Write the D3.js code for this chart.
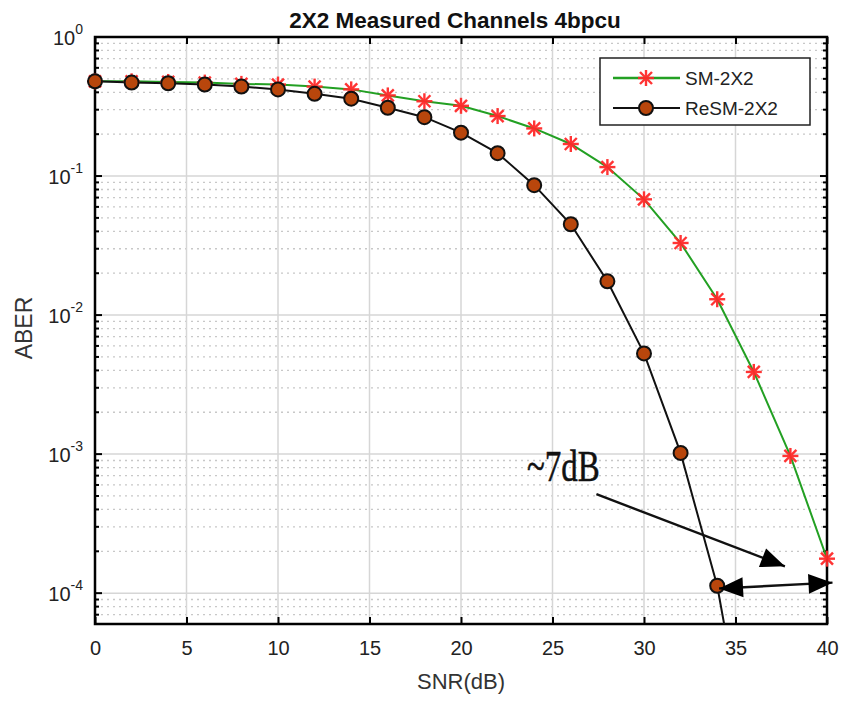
<!DOCTYPE html>
<html>
<head>
<meta charset="utf-8">
<script src="https://cdn.jsdelivr.net/npm/d3@7"></script>
<style>
  body { margin: 0; background: #fff; }
  svg { font-family: Arial, "Liberation Sans", sans-serif; }
</style>
</head>
<body>
<div id="container"></div>
<script>
/* CONSTANTS AND GLOBALS */
const width = 844,
  height = 702,
  margin = {top: 37, bottom: 78, left: 95, right: 12};

// data
const snr = [0, 2, 4, 6, 8, 10, 12, 14, 16, 18, 20, 22, 24, 26, 28, 30, 32, 34, 36, 38, 40];
const smAber = [0.48, 0.48, 0.475, 0.47, 0.46, 0.455, 0.44, 0.42, 0.38, 0.345, 0.32, 0.27, 0.22, 0.17, 0.116, 0.068, 0.033, 0.013, 0.0039, 0.00097, 0.000177];
const resmAber = [0.48, 0.47, 0.465, 0.455, 0.44, 0.42, 0.39, 0.36, 0.31, 0.265, 0.205, 0.146, 0.086, 0.045, 0.0175, 0.0053, 0.00102, 0.000113, 0.000004];
const xTicks = [0, 5, 10, 15, 20, 25, 30, 35, 40];
const yTicks = [1, 0.1, 0.01, 0.001, 0.0001];
const yExps = ["0", "-1", "-2", "-3", "-4"];
const seriesNames = ["SM-2X2", "ReSM-2X2"];

// annotation (data coordinates)
const noteText = "~7dB";
const notePos = [23.6, 6.4e-4];
const arrowOne = [[27.4, 5.15e-4], [37.7, 1.56e-4]];
const arrowTwo = [[34.1, 1.08e-4], [40.3, 1.19e-4]];

/* SCALES */
const xScale = d3.scaleLinear()
  .domain([0, 40])
  .range([margin.left, width - margin.right - 5]);

const yScale = d3.scaleLog()
  .domain([6e-5, 1])
  .range([height - margin.bottom, margin.top]);

const svg = d3.select("#container")
  .append("svg")
  .attr("width", width)
  .attr("height", height);

const x0 = xScale(0), x1 = xScale(40), y0 = yScale(6e-5), y1 = yScale(1);

// minor y values
const minorY = [];
for (let e = -5; e < 0; e++) {
  for (let m = 2; m <= 9; m++) {
    const v = m * Math.pow(10, e);
    if (v >= 6e-5 && v <= 1) minorY.push(v);
  }
}

/* GRID */
const grid = svg.append("g");
grid.selectAll(".minor")
  .data(minorY)
  .join("line")
  .attr("x1", x0).attr("x2", x1)
  .attr("y1", d => yScale(d)).attr("y2", d => yScale(d))
  .attr("stroke", "#c8c8c8")
  .attr("stroke-width", 1.3)
  .attr("stroke-dasharray", "2,4");

grid.selectAll(".vmaj")
  .data(xTicks)
  .join("line")
  .attr("x1", d => xScale(d)).attr("x2", d => xScale(d))
  .attr("y1", y0).attr("y2", y1)
  .attr("stroke", "#d6d6d6")
  .attr("stroke-width", 1.5);

grid.selectAll(".hmaj")
  .data(yTicks)
  .join("line")
  .attr("x1", x0).attr("x2", x1)
  .attr("y1", d => yScale(d)).attr("y2", d => yScale(d))
  .attr("stroke", "#d6d6d6")
  .attr("stroke-width", 1.5);

/* AXES (ticks inside, box) */
const xAxis = d3.axisBottom(xScale).tickValues(xTicks).tickSizeInner(-7).tickSizeOuter(0).tickPadding(17);
svg.append("g")
  .attr("transform", `translate(0,${y0})`)
  .call(xAxis)
  .call(g => g.select(".domain").remove())
  .call(g => g.selectAll("text").attr("font-size", 20).attr("fill", "#222"))
  .call(g => g.selectAll("line").attr("stroke", "#000").attr("stroke-width", 2));

svg.append("g")
  .attr("transform", `translate(0,${y1})`)
  .call(d3.axisTop(xScale).tickValues(xTicks).tickSizeInner(-7).tickSizeOuter(0).tickFormat(""))
  .call(g => g.select(".domain").remove())
  .call(g => g.selectAll("line").attr("stroke", "#000").attr("stroke-width", 2));

[[x0, 1], [x1, -1]].forEach(([xp, dir]) => {
  const g = svg.append("g");
  g.selectAll(".mt")
    .data(minorY)
    .join("line")
    .attr("x1", xp).attr("x2", xp + dir * 4)
    .attr("y1", d => yScale(d)).attr("y2", d => yScale(d))
    .attr("stroke", "#000").attr("stroke-width", 2);
  g.selectAll(".Mt")
    .data(yTicks)
    .join("line")
    .attr("x1", xp).attr("x2", xp + dir * 7)
    .attr("y1", d => yScale(d)).attr("y2", d => yScale(d))
    .attr("stroke", "#000").attr("stroke-width", 2);
});

// y tick labels 10^n
const ylab = svg.append("g");
yTicks.forEach((v, i) => {
  const t = ylab.append("text")
    .attr("x", x0 - 12)
    .attr("y", yScale(v) + 8)
    .attr("text-anchor", "end")
    .attr("font-size", 20)
    .attr("fill", "#222");
  t.append("tspan").text("10");
  t.append("tspan").attr("dy", -11).attr("font-size", 14).text(yExps[i]);
});

svg.append("rect")
  .attr("x", x0).attr("y", y1)
  .attr("width", x1 - x0).attr("height", y0 - y1)
  .attr("fill", "none")
  .attr("stroke", "#000")
  .attr("stroke-width", 2.5);

/* LABELS */
svg.append("text")
  .attr("x", 455).attr("y", 28)
  .attr("text-anchor", "middle")
  .attr("font-size", 22.5)
  .attr("font-weight", "bold")
  .attr("fill", "#111")
  .text("2X2 Measured Channels 4bpcu");

svg.append("text")
  .attr("x", 461).attr("y", 689)
  .attr("text-anchor", "middle")
  .attr("font-size", 22)
  .attr("fill", "#333")
  .text("SNR(dB)");

svg.append("text")
  .attr("transform", `translate(32,328) rotate(-90)`)
  .attr("text-anchor", "middle")
  .attr("font-size", 23)
  .attr("fill", "#333")
  .text("ABER");

/* SERIES */
svg.append("clipPath").attr("id", "clip")
  .append("rect").attr("x", x0).attr("y", y1).attr("width", x1 - x0).attr("height", y0 - y1);

const plot = svg.append("g").attr("clip-path", "url(#clip)");
const line = d3.line().x(d => xScale(d[0])).y(d => yScale(d[1]));

const smData = snr.map((s, i) => [s, smAber[i]]);
const resmData = resmAber.map((v, i) => [snr[i], v]);

plot.append("path")
  .datum(smData)
  .attr("d", line)
  .attr("fill", "none")
  .attr("stroke", "#23a023")
  .attr("stroke-width", 2);

plot.append("path")
  .datum(resmData)
  .attr("d", line)
  .attr("fill", "none")
  .attr("stroke", "#111")
  .attr("stroke-width", 2);

function star(g, cx, cy, r) {
  const s = g.append("g").attr("transform", `translate(${cx},${cy})`)
    .attr("stroke", "#ff2a2a").attr("stroke-width", 2.4).attr("opacity", 0.95);
  s.append("line").attr("x1", -r).attr("x2", r).attr("y1", 0).attr("y2", 0);
  s.append("line").attr("x1", 0).attr("x2", 0).attr("y1", -r).attr("y2", r);
  const k = r * 0.75;
  s.append("line").attr("x1", -k).attr("x2", k).attr("y1", -k).attr("y2", k);
  s.append("line").attr("x1", -k).attr("x2", k).attr("y1", k).attr("y2", -k);
}

const markers = svg.append("g");
smData.forEach(d => star(markers, xScale(d[0]), yScale(d[1]), 8));

markers.selectAll("circle")
  .data(resmData.filter(d => d[1] >= 6e-5))
  .join("circle")
  .attr("cx", d => xScale(d[0]))
  .attr("cy", d => yScale(d[1]))
  .attr("r", 7)
  .attr("fill", "#b8460c")
  .attr("stroke", "#111")
  .attr("stroke-width", 2);

/* LEGEND */
const leg = svg.append("g");
leg.append("rect")
  .attr("x", 600).attr("y", 58).attr("width", 210).attr("height", 67)
  .attr("fill", "#fff").attr("stroke", "#222").attr("stroke-width", 1.5);
const legY = [78, 108];
leg.append("line").attr("x1", 613).attr("x2", 680).attr("y1", legY[0]).attr("y2", legY[0])
  .attr("stroke", "#23a023").attr("stroke-width", 2.5);
star(leg, 646, legY[0], 8);
leg.append("line").attr("x1", 613).attr("x2", 680).attr("y1", legY[1]).attr("y2", legY[1])
  .attr("stroke", "#111").attr("stroke-width", 2);
leg.append("circle").attr("cx", 646).attr("cy", legY[1]).attr("r", 7)
  .attr("fill", "#b8460c").attr("stroke", "#111").attr("stroke-width", 2);
seriesNames.forEach((n, i) => {
  leg.append("text")
    .attr("x", 685).attr("y", legY[i] + 7)
    .attr("font-size", 19)
    .attr("fill", "#222")
    .text(n);
});

/* ANNOTATION */
svg.append("text")
  .attr("transform", `translate(${xScale(notePos[0])},${yScale(notePos[1])}) scale(1,1.35)`)
  .style("font-family", "'Liberation Serif', 'Times New Roman', serif")
  .attr("font-size", 33)
  .attr("fill", "#111")
  .attr("stroke", "#111")
  .attr("stroke-width", 0.4)
  .text(noteText);

function arrowHead(tip, from) {
  const dx = tip[0] - from[0], dy = tip[1] - from[1];
  const len = Math.hypot(dx, dy), ux = dx / len, uy = dy / len;
  const L = 24, W = 10;
  const bx = tip[0] - ux * L, by = tip[1] - uy * L;
  svg.append("path")
    .attr("d", `M${tip[0]},${tip[1]} L${bx - uy * W},${by + ux * W} L${bx + uy * W},${by - ux * W} Z`)
    .attr("fill", "#000");
}

function arrow(seg, both) {
  const a = [xScale(seg[0][0]), yScale(seg[0][1])];
  const b = [xScale(seg[1][0]), yScale(seg[1][1])];
  svg.append("line")
    .attr("x1", a[0]).attr("y1", a[1])
    .attr("x2", b[0]).attr("y2", b[1])
    .attr("stroke", "#111").attr("stroke-width", 2.4);
  arrowHead(b, a);
  if (both) arrowHead(a, b);
}

arrow(arrowOne, false);
arrow(arrowTwo, true);
</script>
</body>
</html>
